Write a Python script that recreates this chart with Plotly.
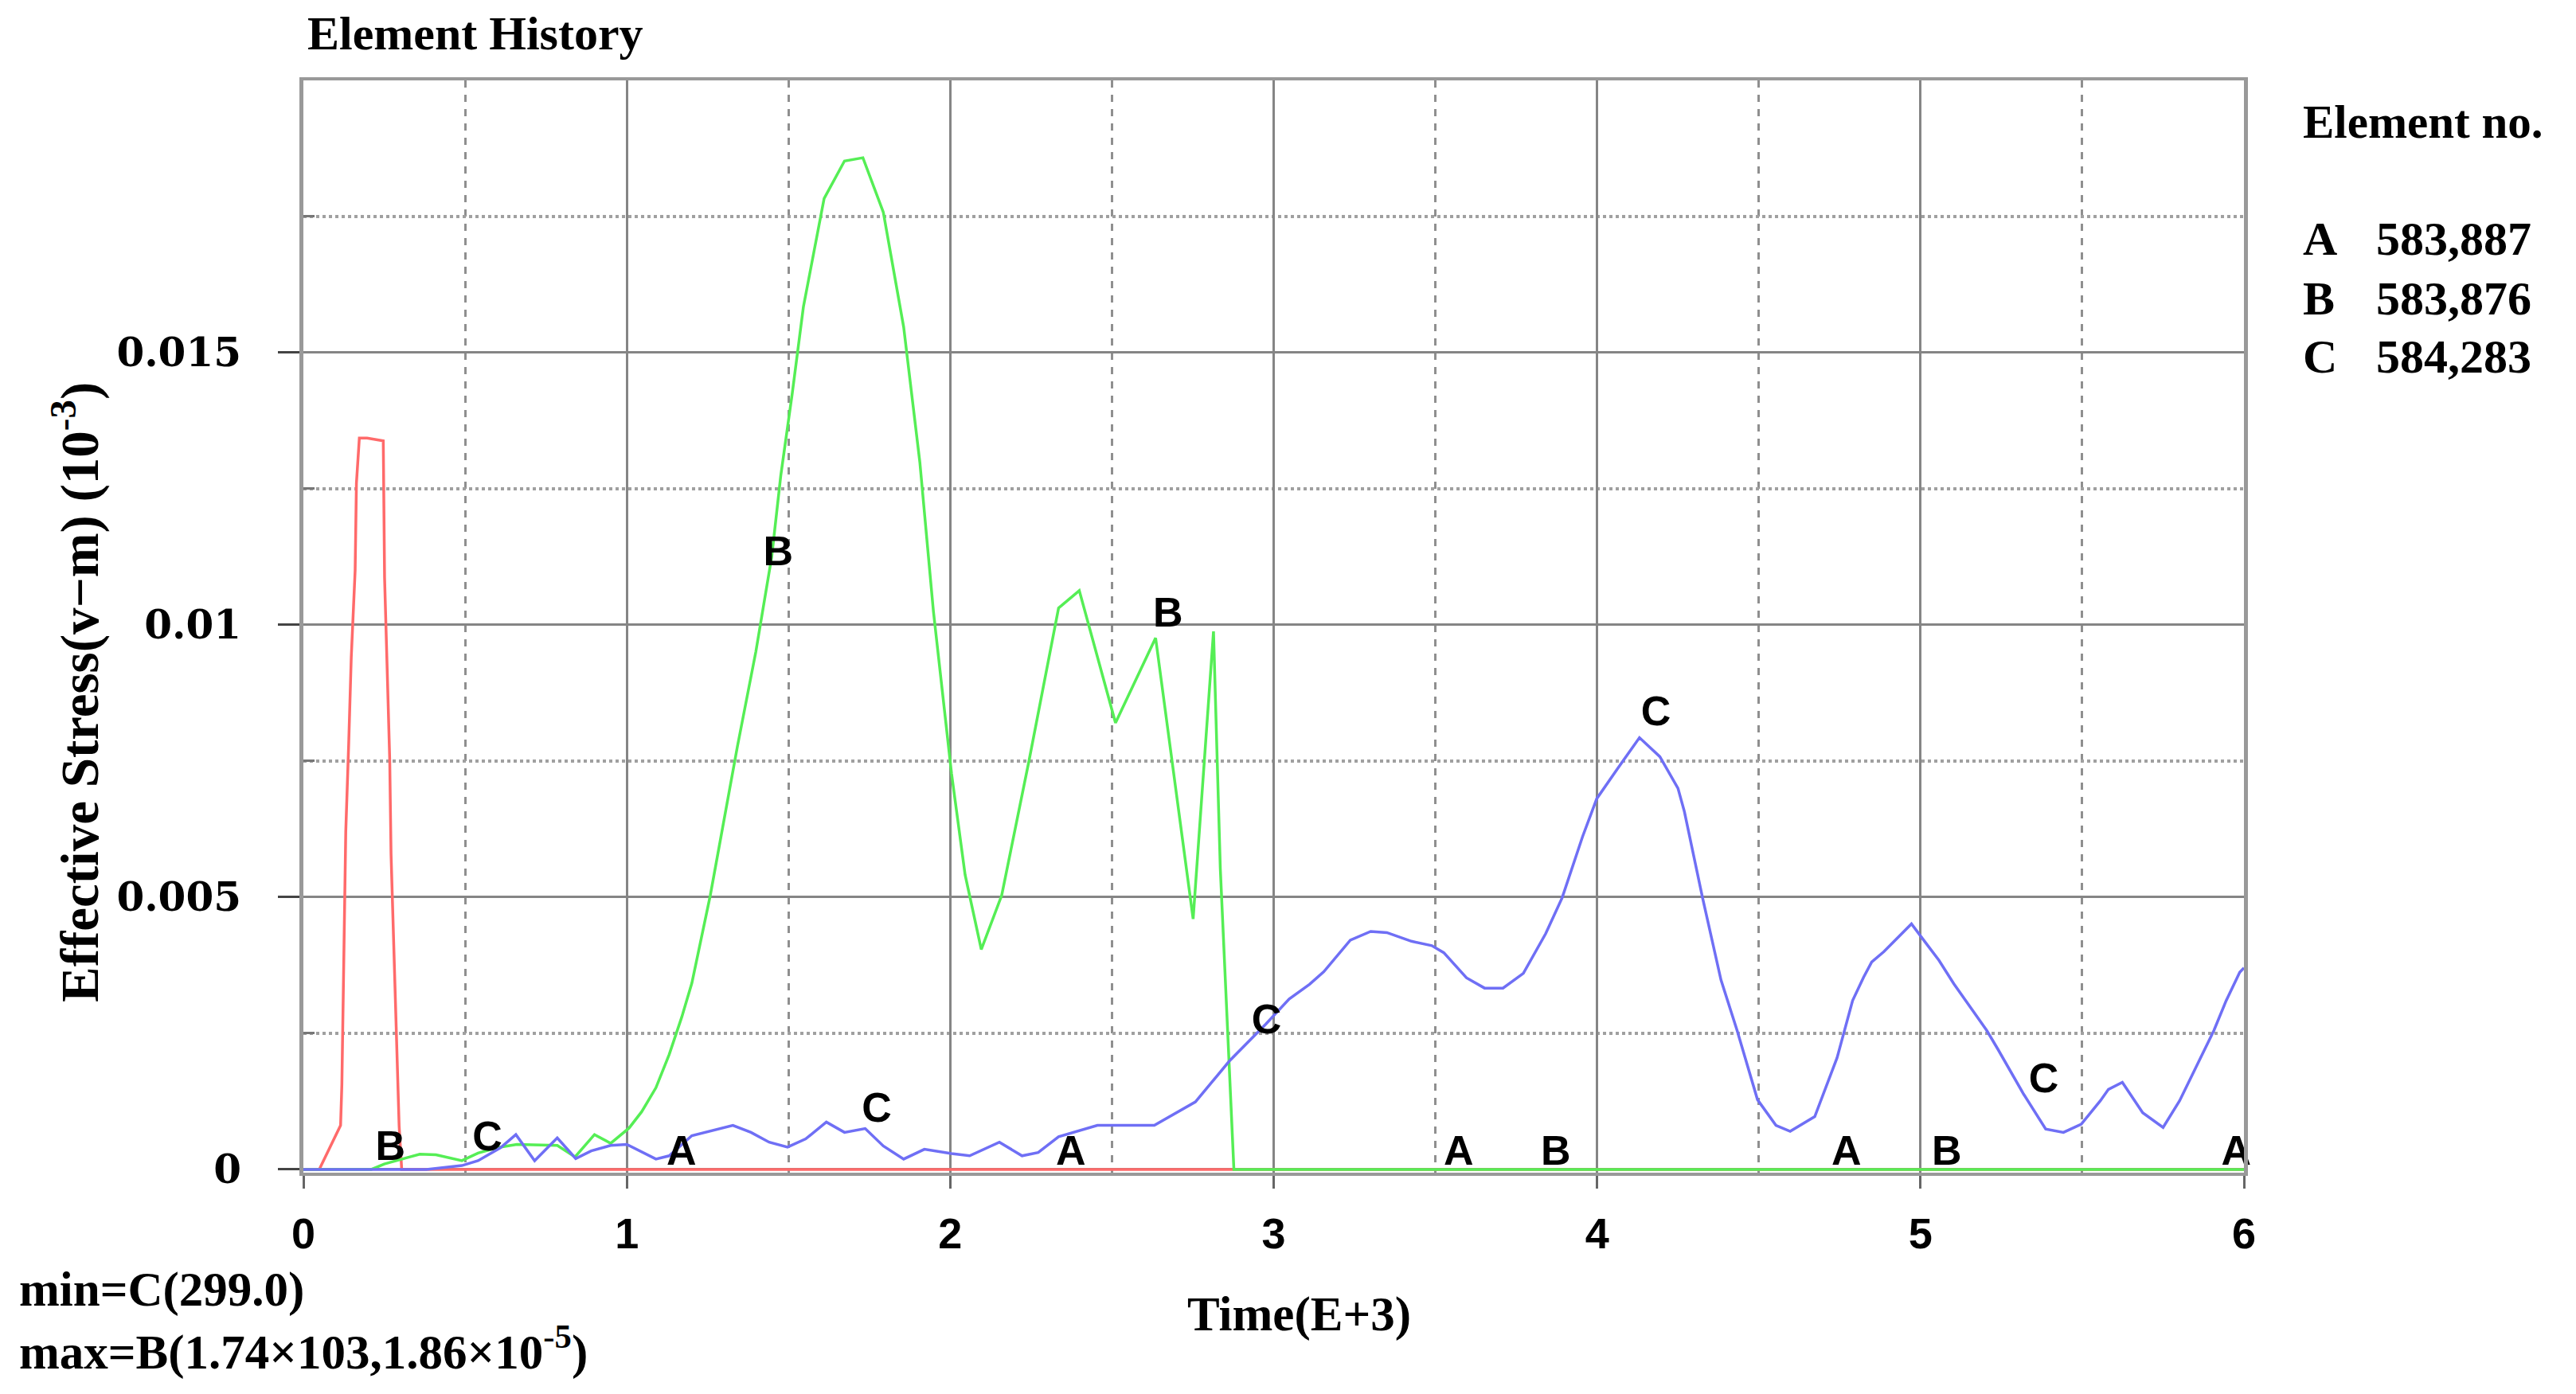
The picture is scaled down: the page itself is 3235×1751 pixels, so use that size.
import plotly.graph_objects as go

# ---------------- data ----------------
red_x = [0, 0.049, 0.115, 0.119, 0.123, 0.131, 0.140, 0.148, 0.160, 0.164, 0.173, 0.197,
         0.247, 0.251, 0.259, 0.267, 0.271, 0.279, 0.288, 0.296, 0.304, 6.0]
red_y = [0, 0, 0.00081, 0.00156, 0.0031, 0.0062, 0.0078, 0.0094, 0.011, 0.0126, 0.01343, 0.01343,
         0.01338, 0.01087, 0.0092, 0.0075, 0.0058, 0.0042, 0.0025, 0.0008, 0, 0]

green_x = [0, 0.21, 0.25, 0.308, 0.36, 0.41, 0.49, 0.54, 0.60, 0.66, 0.72, 0.785, 0.84, 0.90,
           0.95, 1.007, 1.046, 1.09, 1.131, 1.17, 1.201, 1.258, 1.30, 1.342, 1.399, 1.448, 1.476,
           1.511, 1.546, 1.61, 1.673, 1.73, 1.793, 1.856, 1.906, 1.948, 2.004, 2.046, 2.096,
           2.159, 2.244, 2.335, 2.399, 2.511, 2.635, 2.751, 2.814, 2.835, 2.877, 6.0]
green_y = [0, 0, 0.0001, 0.0002, 0.00028, 0.00027, 0.00016, 0.0003, 0.0004, 0.00046, 0.00045,
           0.00044, 0.00023, 0.00064, 0.00048, 0.00076, 0.00106, 0.0015, 0.00211, 0.0028, 0.00342,
           0.00503, 0.0064, 0.00777, 0.00951, 0.01125, 0.01274, 0.01423, 0.01584, 0.01783, 0.01852,
           0.01858, 0.01758, 0.01547, 0.01299, 0.01025, 0.00727, 0.00541, 0.00404, 0.00503, 0.00752,
           0.01031, 0.01063, 0.0082, 0.00976, 0.0046, 0.00988, 0.00553, 0, 0]

blue_x = [0, 0.38, 0.49, 0.54, 0.61, 0.657, 0.715, 0.785, 0.842, 0.89, 0.95, 1.0, 1.09, 1.131,
          1.201, 1.328, 1.384, 1.44, 1.497, 1.553, 1.617, 1.673, 1.737, 1.793, 1.856, 1.92, 2.004,
          2.06, 2.152, 2.222, 2.272, 2.335, 2.455, 2.631, 2.758, 2.863, 2.976, 3.048, 3.111, 3.155,
          3.237, 3.3, 3.35, 3.426, 3.489, 3.526, 3.596, 3.652, 3.709, 3.772, 3.841, 3.892, 3.955,
          3.999, 4.062, 4.131, 4.194, 4.25, 4.27, 4.326, 4.383, 4.433, 4.496, 4.553, 4.597, 4.673,
          4.742, 4.79, 4.824, 4.849, 4.887, 4.972, 5.006, 5.057, 5.103, 5.154, 5.205, 5.239, 5.319,
          5.387, 5.442, 5.497, 5.556, 5.581, 5.624, 5.687, 5.75, 5.801, 5.873, 5.907, 5.945, 5.987,
          6.0]
blue_y = [0, 0, 0.00007, 0.00016, 0.0004, 0.00064, 0.00016, 0.00058, 0.0002, 0.00034, 0.00044,
          0.00046, 0.00019, 0.00025, 0.00062, 0.00081, 0.00068, 0.0005, 0.00041, 0.00056, 0.00087,
          0.00068, 0.00075, 0.00043, 0.00019, 0.00037, 0.00029, 0.00025, 0.0005, 0.00025, 0.00031,
          0.0006, 0.00081, 0.00081, 0.00124, 0.00199, 0.00267, 0.00313, 0.0034, 0.00363, 0.00421,
          0.00437, 0.00435, 0.00419, 0.00411, 0.00398, 0.00352, 0.00333, 0.00333, 0.0036, 0.00433,
          0.00499, 0.00611, 0.00681, 0.00735, 0.00793, 0.00758, 0.007, 0.00657, 0.00499, 0.00348,
          0.00255, 0.00128, 0.00081, 0.0007, 0.00097, 0.00205, 0.0031, 0.00353, 0.00381, 0.004,
          0.00451, 0.00424, 0.00384, 0.00341, 0.00298, 0.00255, 0.00221, 0.00138, 0.00074, 0.00068,
          0.00083, 0.00126, 0.00147, 0.0016, 0.00104, 0.00077, 0.00126, 0.00215, 0.00255, 0.0031,
          0.00362, 0.0037]

# curve identification letters placed along the curves
label_text = ["B", "C", "A", "C", "A", "B", "B", "C", "A", "B", "C", "A", "B", "C", "A"]
label_x = [0.269, 0.569, 1.169, 1.773, 2.373, 1.468, 2.673, 2.978, 3.572, 3.872, 4.182, 4.771,
           5.081, 5.381, 5.976]
label_y = [0.00036, 0.00054, 0.00027, 0.00106, 0.00027, 0.01128, 0.01016, 0.00269, 0.00027,
           0.00027, 0.00835, 0.00027, 0.00027, 0.0016, 0.00027]

x_ticks = [0, 1, 2, 3, 4, 5, 6]
y_ticks = [0, 0.005, 0.01, 0.015]
y_ticktext = ["0", "0.005", "0.01", "0.015"]

element_letters = ["A", "B", "C"]
element_numbers = ["583,887", "583,876", "584,283"]

# ---------------- figure ----------------
SERIF = "Liberation Serif, Times New Roman, serif"
SANS = "Liberation Sans, Arial, sans-serif"

fig = go.Figure()
fig.add_trace(go.Scatter(x=red_x, y=red_y, mode="lines",
                         line=dict(color="#ff6a6a", width=3.5), hoverinfo="skip"))
fig.add_trace(go.Scatter(x=green_x, y=green_y, mode="lines",
                         line=dict(color="#55ee55", width=3.5), hoverinfo="skip"))
fig.add_trace(go.Scatter(x=blue_x, y=blue_y, mode="lines",
                         line=dict(color="#6f6ff5", width=3.5), hoverinfo="skip"))
fig.add_trace(go.Scatter(x=label_x, y=label_y, mode="text", text=label_text,
                         textposition="middle center", cliponaxis=False,
                         textfont=dict(family=SANS, size=52, color="black", weight="bold"),
                         hoverinfo="skip"))

fig.update_xaxes(
    range=[0, 6], tickmode="array", tickvals=x_ticks,
    showgrid=True, gridcolor="#858585", gridwidth=3,
    ticks="outside", ticklen=16, tickwidth=3, tickcolor="#666",
    tickfont=dict(family=SANS, size=54, color="black", weight="bold"),
    ticklabelstandoff=10,
    showline=True, linecolor="#999", linewidth=4, mirror=True,
    zeroline=False,
    minor=dict(tickmode="array", tickvals=[0.5, 1.5, 2.5, 3.5, 4.5, 5.5],
               showgrid=True, gridcolor="#8f8f8f", gridwidth=2.5, griddash="dash",
               ticks=""),
)
fig.update_yaxes(
    range=[-0.00006, 0.02], tickmode="array", tickvals=y_ticks, ticktext=y_ticktext,
    showgrid=True, gridcolor="#858585", gridwidth=3,
    ticks="outside", ticklen=27, tickwidth=3, tickcolor="#444",
    tickfont=dict(family="DejaVu Serif, serif", size=50, color="black", weight="bold"),
    ticklabelstandoff=36,
    showline=True, linecolor="#999", linewidth=5, mirror=True,
    zeroline=False,
    minor=dict(tickmode="array", tickvals=[0.0025, 0.0075, 0.0125, 0.0175],
               showgrid=True, gridcolor="#a0a0a0", gridwidth=4, griddash="dot",
               ticks="inside", ticklen=14, tickcolor="#777"),
)

L, R, T, B = 373, 425, 93, 286
W, H = 3235, 1751
pw = W - L - R
ph = H - T - B


def px(xp):
    return (xp - L) / pw


def py(yp):
    return (H - B - yp) / ph


ann = []
ann.append(dict(text="Element History", x=px(376), y=py(34), xanchor="left", yanchor="middle",
                font=dict(family=SERIF, size=60, color="black", weight="bold")))
ann.append(dict(text="Effective Stress(v\u2212m) (10<sup>-3</sup>)", x=px(87), y=py(862),
                textangle=-90, xanchor="center", yanchor="middle",
                font=dict(family=SERIF, size=67, color="black", weight="bold")))
ann.append(dict(text="Time(E+3)", x=px(1624), y=py(1643), xanchor="center", yanchor="middle",
                font=dict(family=SERIF, size=61, color="black", weight="bold")))
ann.append(dict(text="min=C(299.0)", x=px(14), y=py(1612), xanchor="left", yanchor="middle",
                font=dict(family=SERIF, size=61, color="black", weight="bold")))
ann.append(dict(text="max=B(1.74\u00d7103,1.86\u00d710<sup>-5</sup>)", x=px(14), y=py(1686),
                xanchor="left", yanchor="middle",
                font=dict(family=SERIF, size=61, color="black", weight="bold")))
ann.append(dict(text="Element no.", x=px(2882), y=py(145), xanchor="left", yanchor="middle",
                font=dict(family=SERIF, size=59, color="black", weight="bold")))
row_y = [292, 367, 440]
for letter, num, yy in zip(element_letters, element_numbers, row_y):
    ann.append(dict(text=letter, x=px(2882), y=py(yy), xanchor="left", yanchor="middle",
                    font=dict(family=SERIF, size=60, color="black", weight="bold")))
    ann.append(dict(text=num, x=px(2974), y=py(yy), xanchor="left", yanchor="middle",
                    font=dict(family=SERIF, size=60, color="black", weight="bold")))
for a in ann:
    a.update(xref="paper", yref="paper", showarrow=False)

fig.update_layout(
    width=W, height=H,
    margin=dict(l=L, r=R, t=T, b=B),
    paper_bgcolor="white", plot_bgcolor="white",
    showlegend=False,
    annotations=ann,
)

fig.write_html("out.html")
